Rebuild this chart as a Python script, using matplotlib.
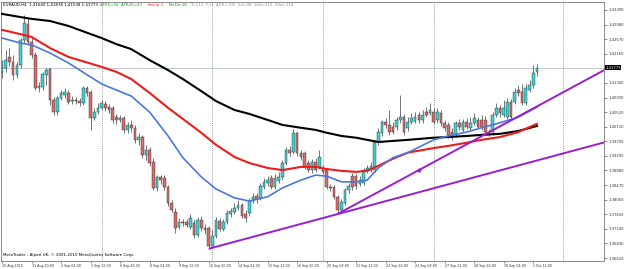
import numpy as np
import matplotlib.pyplot as plt

# EURAUD H4 candles (bar 0 = left edge)
opens = [1.4165, 1.4176, 1.4207, 1.4193, 1.4156, 1.4184, 1.4255, 1.4300, 1.4249, 1.4212,
         1.4120, 1.4123, 1.4156, 1.4173, 1.4086, 1.4052, 1.4092, 1.4100, 1.4106, 1.4083,
         1.4086, 1.4083, 1.4078, 1.4120, 1.4108, 1.4036, 1.4052, 1.4064, 1.4075, 1.4066,
         1.4064, 1.4038, 1.4030, 1.4036, 1.4002, 1.4016, 1.4008, 1.3974, 1.3982, 1.3932,
         1.3946, 1.3912, 1.3839, 1.3870, 1.3867, 1.3842, 1.3797, 1.3771, 1.3729, 1.3743,
         1.3743, 1.3729, 1.3740, 1.3707, 1.3749, 1.3726, 1.3726, 1.3676, 1.3704, 1.3746,
         1.3724, 1.3743, 1.3766, 1.3771, 1.3783, 1.3791, 1.3766, 1.3768, 1.3802, 1.3816,
         1.3811, 1.3842, 1.3853, 1.3867, 1.3842, 1.3858, 1.3870, 1.3909, 1.3946, 1.3940,
         1.3994, 1.3938, 1.3938, 1.3909, 1.3889, 1.3912, 1.3898, 1.3895, 1.3889, 1.3842,
         1.3842, 1.3814, 1.3777, 1.3797, 1.3833, 1.3872, 1.3872, 1.3850, 1.3853, 1.3889,
         1.3889, 1.3889, 1.3968, 1.3994, 1.4024, 1.4016, 1.4010, 1.4010, 1.4030, 1.4038,
         1.4008, 1.4024, 1.4027, 1.4044, 1.4030, 1.4052, 1.4050, 1.4052, 1.4030, 1.4050,
         1.4022, 1.4016, 1.3996, 1.3988, 1.4022, 1.4002, 1.4024, 1.4008, 1.4022, 1.4030,
         1.4030, 1.4030, 1.3996, 1.3996, 1.4044, 1.4064, 1.4044, 1.4038, 1.4080, 1.4080,
         1.4114, 1.4108, 1.4078, 1.4114, 1.4128, 1.41640]
highs = [1.4198, 1.4227, 1.4232, 1.4212, 1.4193, 1.4260, 1.4325, 1.4316, 1.4260, 1.4221,
         1.4137, 1.4165, 1.4176, 1.4176, 1.4094, 1.4097, 1.4114, 1.4120, 1.4114, 1.4097,
         1.4094, 1.4092, 1.4125, 1.4125, 1.4114, 1.4064, 1.4078, 1.4086, 1.4083, 1.4075,
         1.4069, 1.4047, 1.4044, 1.4041, 1.4024, 1.4030, 1.4016, 1.3994, 1.3988, 1.3960,
         1.3954, 1.3924, 1.3875, 1.3875, 1.3875, 1.3847, 1.3805, 1.3783, 1.3755, 1.3752,
         1.3752, 1.3766, 1.3749, 1.3757, 1.3760, 1.3738, 1.3732, 1.3721, 1.3757, 1.3755,
         1.3752, 1.3777, 1.3783, 1.3797, 1.3805, 1.3797, 1.3777, 1.3811, 1.3825, 1.3825,
         1.3853, 1.3867, 1.3872, 1.3875, 1.3878, 1.3884, 1.3918, 1.3954, 1.3957, 1.4005,
         1.3999, 1.3946, 1.3943, 1.3918, 1.3921, 1.3924, 1.3946, 1.3904, 1.3895, 1.3850,
         1.3847, 1.3819, 1.3808, 1.3839, 1.3853, 1.3881, 1.3878, 1.3872, 1.3895, 1.3904,
         1.3912, 1.3974, 1.4008, 1.4030, 1.4036, 1.4058, 1.4024, 1.4038, 1.4100, 1.4047,
         1.4038, 1.4050, 1.4052, 1.4052, 1.4058, 1.4066, 1.4078, 1.4064, 1.4064, 1.4058,
         1.4030, 1.4024, 1.4008, 1.4027, 1.4033, 1.4033, 1.4036, 1.4038, 1.4050, 1.4038,
         1.4044, 1.4041, 1.4005, 1.4052, 1.4078, 1.4072, 1.4086, 1.4092, 1.4089, 1.4120,
         1.4128, 1.4131, 1.4131, 1.4142, 1.4184, 1.41878]
lows = [1.4148, 1.4165, 1.4182, 1.4142, 1.4148, 1.4176, 1.4246, 1.4241, 1.4204, 1.4114,
        1.4108, 1.4114, 1.4128, 1.4072, 1.4044, 1.4044, 1.4086, 1.4092, 1.4075, 1.4075,
        1.4075, 1.4069, 1.4072, 1.4097, 1.4002, 1.4030, 1.4047, 1.4058, 1.4055, 1.4050,
        1.4022, 1.4019, 1.4024, 1.3994, 1.3994, 1.3996, 1.3966, 1.3960, 1.3924, 1.3918,
        1.3901, 1.3833, 1.3830, 1.3850, 1.3833, 1.3788, 1.3771, 1.3712, 1.3724, 1.3732,
        1.3729, 1.3724, 1.3698, 1.3701, 1.3718, 1.3710, 1.3668, 1.3670, 1.3698, 1.3718,
        1.3718, 1.3738, 1.3757, 1.3766, 1.3777, 1.3755, 1.3743, 1.3760, 1.3797, 1.3797,
        1.3805, 1.3836, 1.3844, 1.3836, 1.3836, 1.3853, 1.3864, 1.3904, 1.3929, 1.3935,
        1.3929, 1.3918, 1.3892, 1.3884, 1.3881, 1.3884, 1.3892, 1.3878, 1.3836, 1.3830,
        1.3808, 1.3766, 1.3771, 1.3791, 1.3825, 1.3833, 1.3836, 1.3844, 1.3847, 1.3881,
        1.3884, 1.3884, 1.3960, 1.3985, 1.4008, 1.3988, 1.3991, 1.4002, 1.4022, 1.3988,
        1.3999, 1.4019, 1.4022, 1.4022, 1.4022, 1.4038, 1.4044, 1.4019, 1.4022, 1.4013,
        1.3999, 1.3980, 1.3974, 1.3982, 1.4002, 1.3996, 1.4005, 1.4002, 1.4016, 1.4005,
        1.4002, 1.3991, 1.3985, 1.3988, 1.4038, 1.4038, 1.4038, 1.4033, 1.4033, 1.4075,
        1.4097, 1.4072, 1.4072, 1.4108, 1.4120, 1.41538]
closes = [1.4176, 1.4198, 1.4193, 1.4156, 1.4184, 1.4255, 1.4302, 1.4249, 1.4212, 1.4120,
          1.4125, 1.4159, 1.4170, 1.4086, 1.4052, 1.4092, 1.4106, 1.4108, 1.4080, 1.4086,
          1.4083, 1.4078, 1.4120, 1.4106, 1.4036, 1.4052, 1.4064, 1.4078, 1.4064, 1.4058,
          1.4030, 1.4030, 1.4036, 1.4002, 1.4016, 1.4008, 1.3974, 1.3982, 1.3932, 1.3946,
          1.3909, 1.3839, 1.3870, 1.3861, 1.3842, 1.3797, 1.3777, 1.3726, 1.3743, 1.3740,
          1.3735, 1.3755, 1.3707, 1.3749, 1.3726, 1.3721, 1.3676, 1.3704, 1.3749, 1.3724,
          1.3743, 1.3768, 1.3774, 1.3783, 1.3791, 1.3760, 1.3755, 1.3802, 1.3814, 1.3808,
          1.3844, 1.3856, 1.3861, 1.3842, 1.3867, 1.3870, 1.3909, 1.3946, 1.3938, 1.3994,
          1.3938, 1.3926, 1.3898, 1.3889, 1.3912, 1.3889, 1.3926, 1.3884, 1.3842, 1.3839,
          1.3814, 1.3777, 1.3799, 1.3833, 1.3844, 1.3842, 1.3844, 1.3861, 1.3889, 1.3895,
          1.3901, 1.3968, 1.3996, 1.4024, 1.4016, 1.3996, 1.3996, 1.4030, 1.4038, 1.3996,
          1.4024, 1.4036, 1.4038, 1.4030, 1.4044, 1.4044, 1.4058, 1.4024, 1.4052, 1.4022,
          1.4008, 1.3988, 1.3982, 1.4022, 1.4010, 1.4024, 1.4010, 1.4022, 1.4036, 1.4010,
          1.4010, 1.3996, 1.3994, 1.4044, 1.4064, 1.4050, 1.4064, 1.4080, 1.4038, 1.4108,
          1.4106, 1.4078, 1.4120, 1.4128, 1.4162, 1.41773]

# moving averages, sampled at these bars
ma_bars = [0, 5, 8, 13, 18, 27, 31, 35, 40, 45, 49, 54, 58, 63, 67, 72, 76,
           81, 85, 88, 92, 96, 99, 102, 106, 110, 117, 121, 126, 130, 135, 140, 145]
ma_black = [1.4328, 1.4319, 1.4314, 1.4308, 1.4294, 1.4260, 1.4243, 1.4229, 1.4198,
            1.4170, 1.4145, 1.4111, 1.4083, 1.4058, 1.4047, 1.4030, 1.4016, 1.4008,
            1.4002, 1.3994, 1.3985, 1.3980, 1.3974, 1.3968, 1.3971, 1.3974, 1.3980,
            1.3982, 1.3985, 1.3988, 1.3991, 1.3999, 1.4013]
ma_red = [1.4283, 1.4271, 1.4263, 1.4232, 1.4207, 1.4179, 1.4165, 1.4145, 1.4106,
          1.4064, 1.4033, 1.3994, 1.3960, 1.3926, 1.3909, 1.3895, 1.3889, 1.3898,
          1.3898, 1.3892, 1.3887, 1.3884, 1.3887, 1.3901, 1.3921, 1.3938, 1.3951,
          1.3957, 1.3966, 1.3974, 1.3982, 1.3996, 1.4019]
ma_blue = [1.4260, 1.4246, 1.4241, 1.4218, 1.4190, 1.4131, 1.4114, 1.4097, 1.4052,
           1.3985, 1.3924, 1.3870, 1.3836, 1.3811, 1.3802, 1.3814, 1.3839, 1.3861,
           1.3875, 1.3872, 1.3856, 1.3856, 1.3861, 1.3895, 1.3924, 1.3938, 1.3974,
           1.3985, 1.3996, 1.4008, 1.4022, 1.4038, 1.4066]

# trendlines, two anchors each (bar, price)
trend_low = [(56, 1.3668), (145, 1.3916)]
trend_up = [(91, 1.3766), (113, 1.3889)]

week_starts = [27, 57, 87, 117, 152]
date_labels = ["30 Aug 2010", "31 Aug 20:00", "2 Sep 04:00", "3 Sep 12:00",
               "6 Sep 20:00", "8 Sep 04:00", "9 Sep 12:00", "10 Sep 20:00",
               "14 Sep 04:00", "15 Sep 12:00", "16 Sep 20:00", "20 Sep 04:00",
               "21 Sep 12:00", "22 Sep 20:00", "24 Sep 04:00", "27 Sep 12:00",
               "28 Sep 20:00", "30 Sep 04:00", "1 Oct 12:00"]
price_ticks = [1.36420, 1.36830, 1.37240, 1.37650, 1.38060, 1.38470, 1.38880,
               1.39290, 1.39700, 1.40110, 1.40520, 1.40930, 1.41340, 1.41750,
               1.42160, 1.42570, 1.42980, 1.43390]

o = np.array(opens)
h = np.array(highs)
l = np.array(lows)
c = np.array(closes)
bars = np.arange(len(c))
up = c >= o

fig = plt.figure(figsize=(6.25, 2.69), dpi=100)
ax = fig.add_axes([1 / 625, 8 / 269, 603 / 625, 259 / 269])
ax.set_xlim(-0.3, 163.2)
ax.set_ylim(1.36336, 1.43614)

# week separators and bid line
for b in week_starts:
    ax.axvline(b, color='#808080', lw=0.5, ls=(0, (1.5, 1.5)), zorder=1)
ax.axhline(c[-1], color='#a8b4c4', lw=0.5, zorder=1)

# candles
ax.vlines(bars, l, h, color='#5e5e5e', lw=0.6, zorder=2)
body_lo = np.minimum(o, c)
body_h = np.maximum(np.abs(c - o), 0.00008)
ax.bar(bars[up], body_h[up], bottom=body_lo[up], width=0.72, color='#3ad2d2',
       edgecolor='#2d2d2d', linewidth=0.3, zorder=3)
ax.bar(bars[~up], body_h[~up], bottom=body_lo[~up], width=0.72, color='#d46c6c',
       edgecolor='#2d2d2d', linewidth=0.3, zorder=3)

# moving averages
ax.plot(ma_bars, ma_black, color='black', lw=1.5, zorder=4)
ax.plot(ma_bars, ma_red, color='#ee1c1c', lw=1.5, zorder=4)
ax.plot(ma_bars, ma_blue, color='#4a78dc', lw=1.2, zorder=4)

# trendlines, extended to the right edge
xmax = ax.get_xlim()[1]
for (b0, p0), (b1, p1) in (trend_low, trend_up):
    k = (p1 - p0) / (b1 - b0)
    ax.plot([b0, xmax], [p0, p0 + k * (xmax - b0)], color='#9a1ed0', lw=1.4,
            zorder=5, solid_capstyle='butt')
ax.plot(trend_up[1][0], trend_up[1][1], 'o', ms=1.8, color='#9a1ed0', zorder=6)

# axes styling
for s in ax.spines.values():
    s.set_color('#7a7a7a')
    s.set_linewidth(0.6)
ax.yaxis.tick_right()
ax.set_yticks(price_ticks)
# the label under the current price box is hidden, as in the terminal
ax.set_yticklabels(["" if abs(p - c[-1]) < 0.001 else f"{p:.5f}"
                    for p in price_ticks])
ax.tick_params(axis='y', length=2, width=0.4, pad=1, labelsize=2.7,
               colors='#333333')
ax.set_xticks(np.arange(len(date_labels)) * 8)
ax.set_xticklabels(date_labels, ha='left')
ax.tick_params(axis='x', length=1.5, width=0.4, pad=0.6, labelsize=2.3,
               colors='#333333')

# current price box
ax.text(1.002, c[-1], f"{c[-1]:.5f}", transform=ax.get_yaxis_transform(),
        ha='left', va='center', fontsize=2.7, color='white', zorder=10,
        clip_on=False, bbox=dict(fc='black', ec='none', pad=0.4))

# header texts
fig.text(3 / 625, 1 - 5 / 269,
         f"EURAUD,H4  {o[-1]:.5f} {h[-1]:.5f} {l[-1]:.5f} {c[-1]:.5f}",
         fontsize=2.9, va='center', color='black')
fig.text(100 / 625, 1 - 5 / 269, "ATR5=56  ATR20=47", fontsize=2.9,
         va='center', color='#11a011')
fig.text(148 / 625, 1 - 5 / 269, "RetUp:2", fontsize=2.9, va='center',
         color='#ff3030')
fig.text(169 / 625, 1 - 5 / 269, "RetDn:28", fontsize=2.9, va='center',
         color='#11a011')
fig.text(190 / 625, 1 - 5 / 269, "T=113  Y=1", fontsize=2.9, va='center',
         color='#909090')
fig.text(216 / 625, 1 - 5 / 269, "ADR=105  5d=98  10d=112  20d=118",
         fontsize=2.9, va='center', color='#909090')
fig.text(3 / 625, 1 - 255 / 269,
         "MetaTrader - Alpari UK, \u00a9 2001-2010 MetaQuotes Software Corp.",
         fontsize=2.9, va='center', color='black')

fig.savefig('out.png', dpi=100)
